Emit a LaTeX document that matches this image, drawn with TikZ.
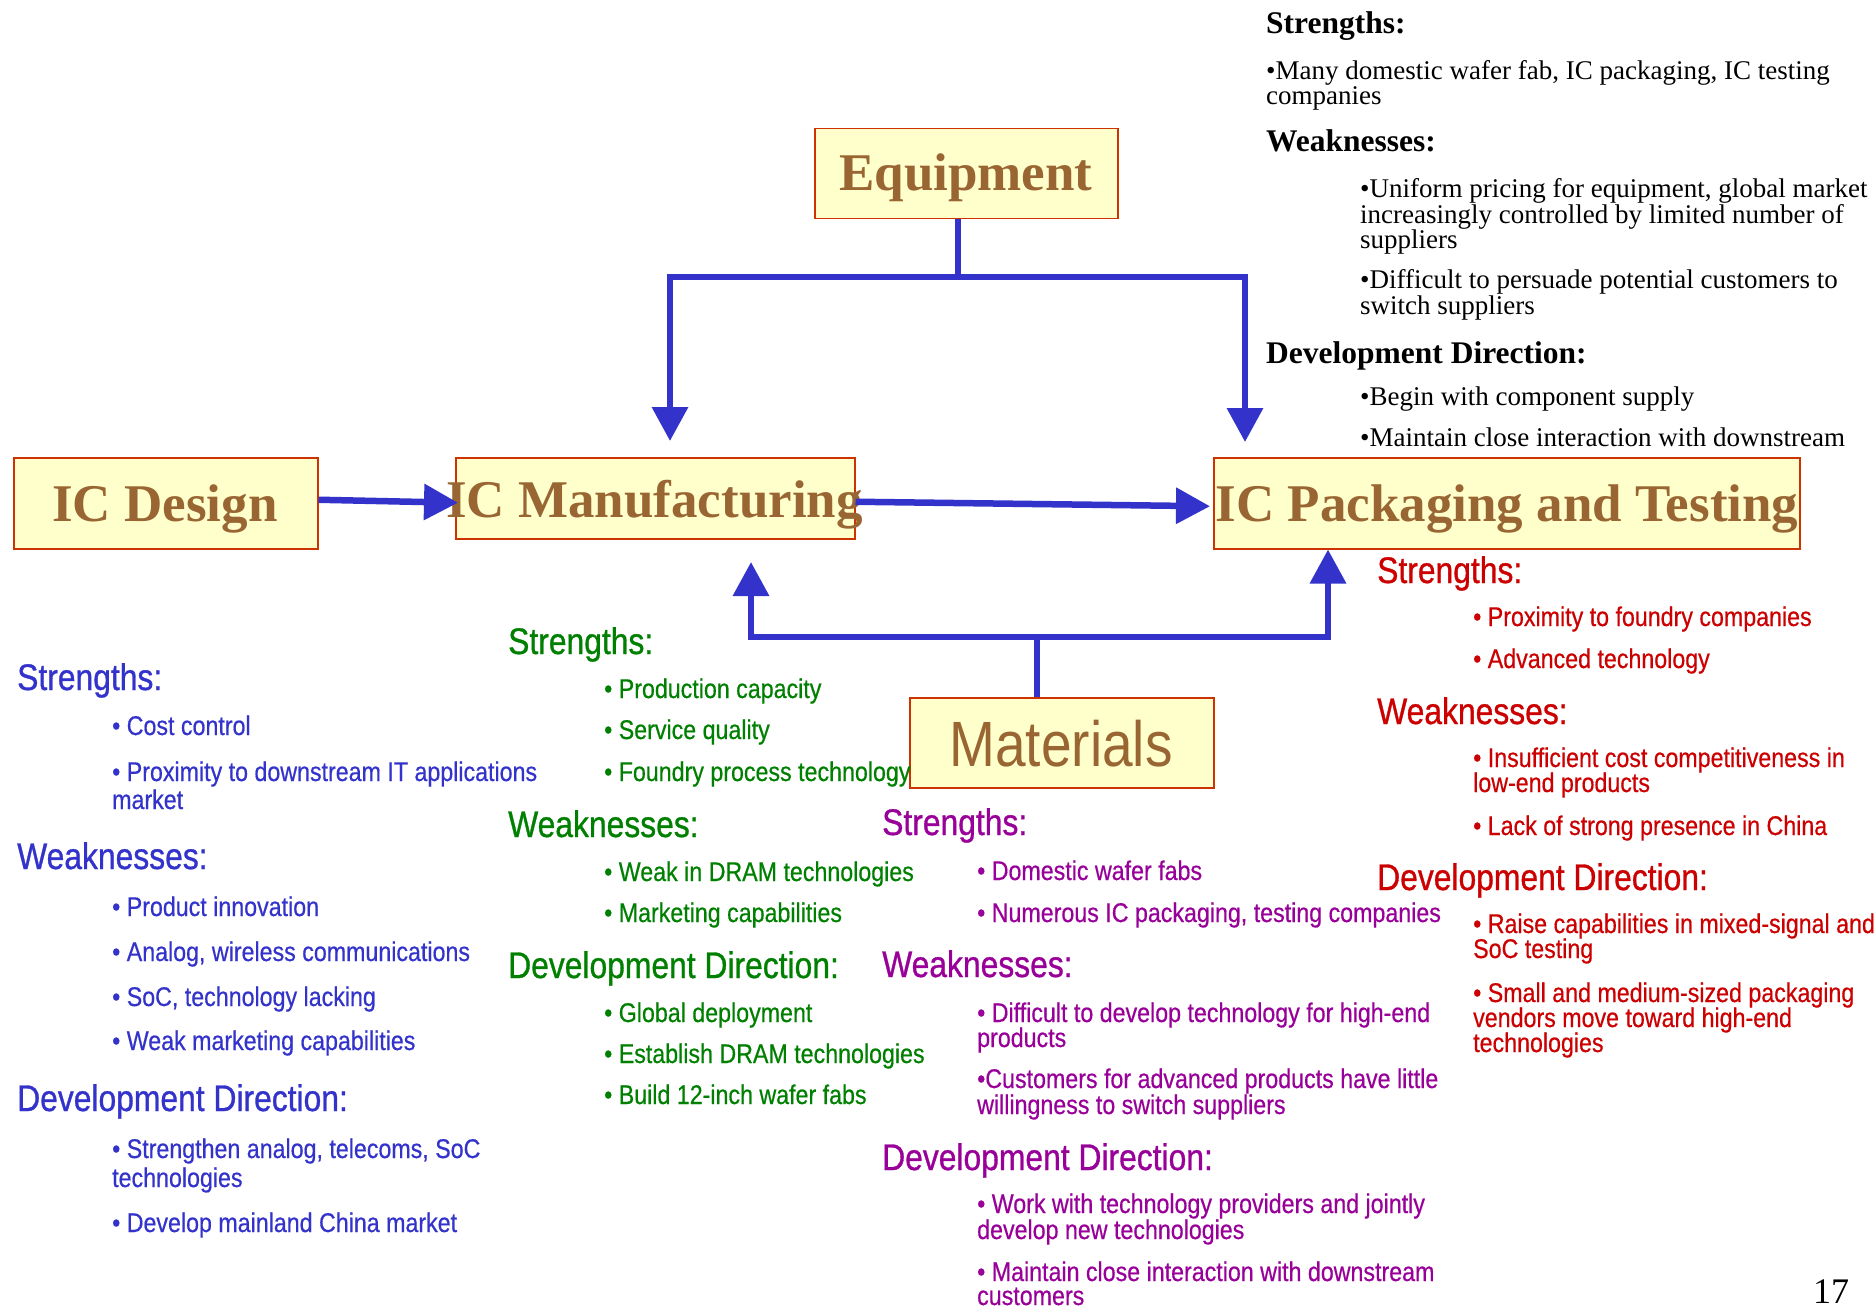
\documentclass[tikz,border=0pt]{standalone}
\usepackage{fontspec}
\setmainfont{Liberation Serif}
\newfontfamily\narrowsans[FakeStretch=0.86, FakeBold=0.5]{Liberation Sans}
\newfontfamily\narrowhead[FakeStretch=0.86, FakeBold=0.8]{Liberation Sans}
\newfontfamily\narrowbox[FakeStretch=0.86]{Liberation Sans}
\usetikzlibrary{arrows.meta}

\definecolor{boxfill}{HTML}{FFFFCC}
\definecolor{boxline}{HTML}{CC3300}
\definecolor{boxtext}{HTML}{996633}
\definecolor{linkblue}{HTML}{3333CC}
\definecolor{txtblue}{HTML}{3333CC}
\definecolor{txtgreen}{HTML}{008000}
\definecolor{txtpurple}{HTML}{990099}
\definecolor{txtred}{HTML}{CC0000}

\tikzset{
  stagebox/.style={draw=boxline, fill=boxfill, line width=1.5pt, inner sep=0pt, anchor=north west},
  stagelabel/.style={text=boxtext, inner sep=0pt, anchor=base,
    font=\bfseries\fontsize{53}{53}\selectfont},
  link/.style={draw=linkblue, line width=6.5pt, line join=miter},
  bigtip/.tip={Triangle[length=34pt, width=35pt]},
  txt/.style={anchor=base west, inner sep=0pt},
  shead/.style={txt, font=\narrowhead\fontsize{37}{37}\selectfont},
  sitem/.style={txt, font=\narrowsans\fontsize{27}{27}\selectfont},
  rhead/.style={txt, font=\bfseries\fontsize{31.5}{31.5}\selectfont},
  ritem/.style={txt, font=\fontsize{27}{27}\selectfont},
}

\begin{document}
\begin{tikzpicture}[x=1pt, y=-1pt]
\fill[white] (0,0) rectangle (1876,1308);
\useasboundingbox (0,0) rectangle (1876,1308);

% ---- stage boxes ----
\node[stagebox, minimum width=304pt, minimum height=91pt] (icd) at (13,457) {};
\node[stagebox, minimum width=399pt, minimum height=81pt] (icm) at (455,457) {};
\node[stagebox, minimum width=586pt, minimum height=91pt] (icp) at (1213,457) {};
\node[stagebox, minimum width=303pt, minimum height=90pt] (eq) at (814,128) {};
\node[stagebox, minimum width=304pt, minimum height=90pt] (mat) at (909,697) {};

\node[stagelabel] (icdT) at (165,521) {IC Design};
\node[stagelabel] (icmT) at (654.5,517) {IC Manufacturing};
\node[stagelabel] (icpT) at (1507,521) {IC Packaging and Testing};
\node[stagelabel] (eqT) at (966,191) {Equipment};
\node[stagelabel, font=\narrowbox\fontsize{64}{64}\selectfont] (matT) at (1061,766) {Materials};

% ---- connectors ----
\draw[link, -bigtip] ([yshift=3.5pt]icd.east) -- ([xshift=3pt, yshift=-4.5pt]icm.west);
\draw[link, -bigtip] ([yshift=-3.5pt]icm.east) -- ([xshift=-3pt, yshift=-3pt]icp.west);

\coordinate (eqJ) at (958,277);
\coordinate (eqL) at (670,277);
\coordinate (eqR) at (1245,277);
\coordinate (eqLtip) at (670,441);
\coordinate (eqRtip) at (1245,442);
\draw[link] (eq.south -| eqJ) -- (eqJ);
\draw[link, bigtip-bigtip] (eqLtip) -- (eqL) -- (eqR) -- (eqRtip);

\coordinate (matJ) at (1037,637);
\coordinate (matL) at (751,637);
\coordinate (matR) at (1328,637);
\coordinate (matLtip) at (751,562);
\draw[link] (mat.north -| matJ) -- (matJ);
\draw[link, bigtip-bigtip] (matLtip) -- (matL) -- (matR) -- (matR |- icp.south);

% ---- equipment notes ----
\node[rhead] (eS) at (1266,34) {Strengths:};
\node[ritem] (eS1) at (1266,80) {•Many domestic wafer fab, IC packaging, IC testing};
\node[ritem] (eS1b) at (1266,105) {companies};
\node[rhead] (eW) at (1266,152) {Weaknesses:};
\node[ritem] (eW1) at (1360,197) {•Uniform pricing for equipment, global market};
\node[ritem] (eW1b) at (1360,223) {increasingly controlled by limited number of};
\node[ritem] (eW1c) at (1360,248) {suppliers};
\node[ritem] (eW2) at (1360,288) {•Difficult to persuade potential customers to};
\node[ritem] (eW2b) at (1360,314) {switch suppliers};
\node[rhead] (eD) at (1266,363) {Development Direction:};
\node[ritem] (eD1) at (1360,405) {•Begin with component supply};
\node[ritem] (eD2) at (1360,446) {•Maintain close interaction with downstream};

% ---- IC design notes ----
\begin{scope}[every node/.append style={text=txtblue}]
\node[shead] (dS) at (17,690) {Strengths:};
\node[sitem] (dS1) at (112,735) {• Cost control};
\node[sitem] (dS2) at (112,781) {• Proximity to downstream IT applications};
\node[sitem] (dS2b) at (112,809) {market};
\node[shead] (dW) at (17,869) {Weaknesses:};
\node[sitem] (dW1) at (112,916) {• Product innovation};
\node[sitem] (dW2) at (112,961) {• Analog, wireless communications};
\node[sitem] (dW3) at (112,1006) {• SoC, technology lacking};
\node[sitem] (dW4) at (112,1050) {• Weak marketing capabilities};
\node[shead] (dD) at (17,1111) {Development Direction:};
\node[sitem] (dD1) at (112,1158) {• Strengthen analog, telecoms, SoC};
\node[sitem] (dD1b) at (112,1187) {technologies};
\node[sitem] (dD2) at (112,1232) {• Develop mainland China market};
\end{scope}

% ---- IC manufacturing notes ----
\begin{scope}[every node/.append style={text=txtgreen}]
\node[shead] (mS) at (508,654) {Strengths:};
\node[sitem] (mS1) at (604,698) {• Production capacity};
\node[sitem] (mS2) at (604,739) {• Service quality};
\node[sitem] (mS3) at (604,781) {• Foundry process technology};
\node[shead] (mW) at (508,837) {Weaknesses:};
\node[sitem] (mW1) at (604,881) {• Weak in DRAM technologies};
\node[sitem] (mW2) at (604,922) {• Marketing capabilities};
\node[shead] (mD) at (508,978) {Development Direction:};
\node[sitem] (mD1) at (604,1022) {• Global deployment};
\node[sitem] (mD2) at (604,1063) {• Establish DRAM technologies};
\node[sitem] (mD3) at (604,1104) {• Build 12-inch wafer fabs};
\end{scope}

% ---- materials notes ----
\begin{scope}[every node/.append style={text=txtpurple}]
\node[shead] (tS) at (882,835) {Strengths:};
\node[sitem] (tS1) at (977,880) {• Domestic wafer fabs};
\node[sitem] (tS2) at (977,922) {• Numerous IC packaging, testing companies};
\node[shead] (tW) at (882,977) {Weaknesses:};
\node[sitem] (tW1) at (977,1022) {• Difficult to develop technology for high-end};
\node[sitem] (tW1b) at (977,1047) {products};
\node[sitem] (tW2) at (977,1088) {•Customers for advanced products have little};
\node[sitem] (tW2b) at (977,1114) {willingness to switch suppliers};
\node[shead] (tD) at (882,1170) {Development Direction:};
\node[sitem] (tD1) at (977,1213) {• Work with technology providers and jointly};
\node[sitem] (tD1b) at (977,1239) {develop new technologies};
\node[sitem] (tD2) at (977,1281) {• Maintain close interaction with downstream};
\node[sitem] (tD2b) at (977,1305) {customers};
\end{scope}

% ---- packaging and testing notes ----
\begin{scope}[every node/.append style={text=txtred}]
\node[shead] (pS) at (1377,583) {Strengths:};
\node[sitem] (pS1) at (1473,626) {• Proximity to foundry companies};
\node[sitem] (pS2) at (1473,668) {• Advanced technology};
\node[shead] (pW) at (1377,724) {Weaknesses:};
\node[sitem] (pW1) at (1473,767) {• Insufficient cost competitiveness in};
\node[sitem] (pW1b) at (1473,792) {low-end products};
\node[sitem] (pW2) at (1473,835) {• Lack of strong presence in China};
\node[shead] (pD) at (1377,890) {Development Direction:};
\node[sitem] (pD1) at (1473,933) {• Raise capabilities in mixed-signal and};
\node[sitem] (pD1b) at (1473,958) {SoC testing};
\node[sitem] (pD2) at (1473,1002) {• Small and medium-sized packaging};
\node[sitem] (pD2b) at (1473,1027) {vendors move toward high-end};
\node[sitem] (pD2c) at (1473,1052) {technologies};
\end{scope}

% ---- page number ----
\node[txt, font=\fontsize{36}{36}\selectfont] (pageno) at (1813,1303) {17};
\end{tikzpicture}
\end{document}
